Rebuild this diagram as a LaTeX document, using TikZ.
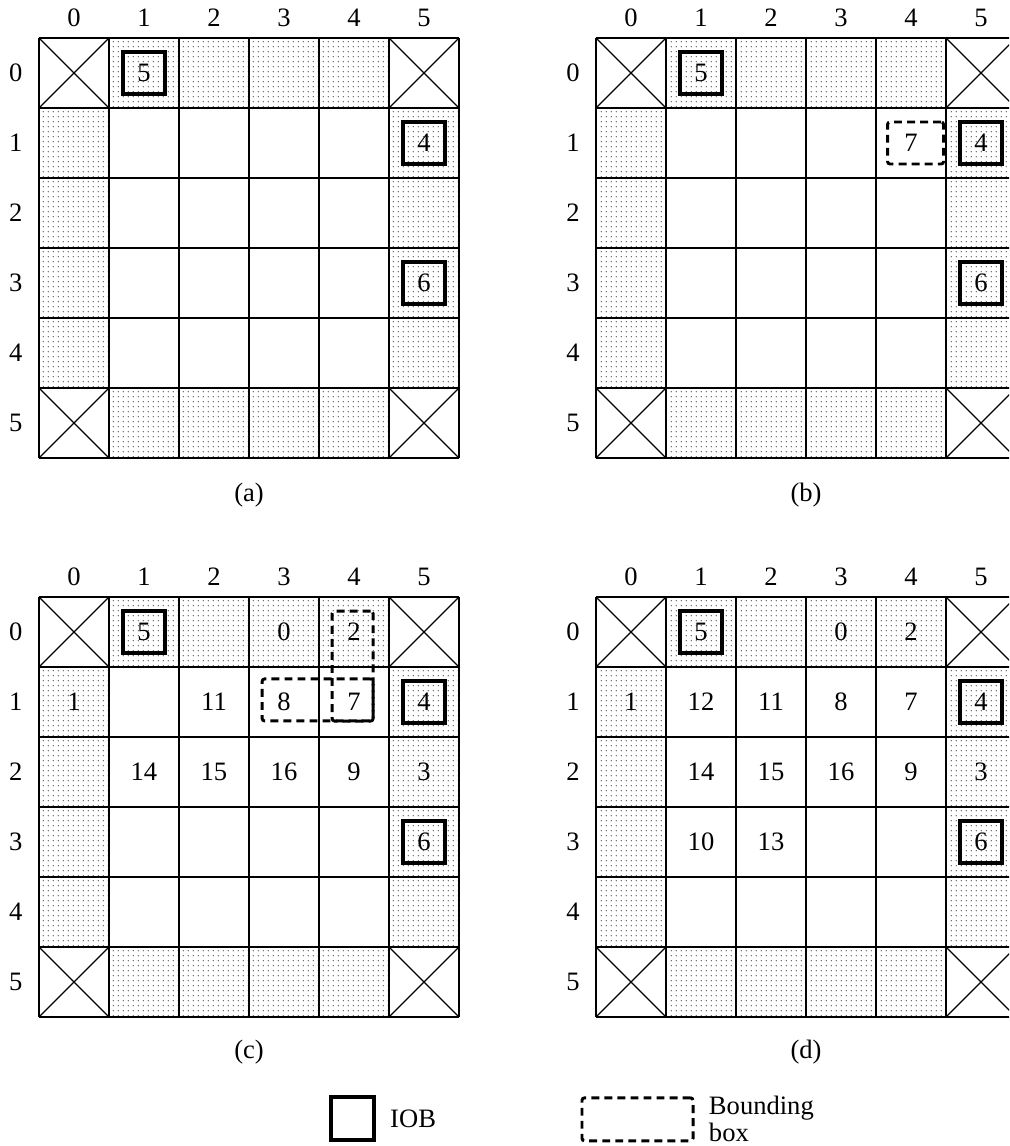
\documentclass[tikz,border=0pt]{standalone}
\usepackage{fontspec}
\setmainfont{Liberation Serif}
\usepackage{tikz}
\usetikzlibrary{patterns.meta, positioning, calc}
\newcommand\cellfont{\fontsize{10.8}{11}\selectfont}
\tikzdeclarepattern{
  name=iodots, type=uncolored,
  bounding box={(0pt,0pt) and (2.1pt,2.1pt)},
  tile size={(2.1pt,2.1pt)},
  code={\fill (1.05pt,1.05pt) circle (0.3pt);}
}
\tikzset{
  gridline/.style  = {line width=0.7pt},
  crossline/.style = {line width=0.5pt},
  iofill/.style    = {pattern=iodots, pattern color=black!75},
  lbl/.style       = {font=\cellfont, inner sep=0pt},
  iob/.style       = {draw, line width=1.5pt, minimum size=0.6cm, inner sep=0pt, font=\cellfont},
  bbox/.style      = {draw, line width=1.2pt, dash pattern=on 3.2pt off 2.1pt,
                      rounded corners=1pt, inner sep=0pt, font=\cellfont},
  fpga/.pic = {
    \fill[iofill] (1,0) rectangle (5,-1)  (1,-5) rectangle (5,-6)
                  (0,-1) rectangle (1,-5) (5,-1) rectangle (6,-5);
    \draw[gridline] (0,-6) grid (6,0);
    \draw[crossline] (0,0) -- (1,-1) (0,-1) -- (1,0)
                     (5,0) -- (6,-1) (5,-1) -- (6,0)
                     (0,-5) -- (1,-6) (0,-6) -- (1,-5)
                     (5,-5) -- (6,-6) (5,-6) -- (6,-5);
    \foreach \i in {0,...,5} {
      \node[lbl] (-col\i) at (\i+0.5, 0.29) {\i};
      \node[lbl] (-row\i) at (-0.33, -\i-0.5) {\i};
      \foreach \j in {0,...,5} \coordinate (-c\i\j) at (\i+0.5, -\j-0.5);
    }
  },
}

\begin{document}
\begin{tikzpicture}
  \clip (0,0) rectangle (14.414,-16.371);

  %% (a) initial placement of IOBs
  \pic (pa) at (0.557,-0.543) {fpga};
  \node[iob] (pa-io5) at (pa-c10) {5};
  \node[iob] (pa-io4) at (pa-c51) {4};
  \node[iob] (pa-io6) at (pa-c53) {6};
  \node[lbl] (capa) at (3.557,-7.07) {(a)};

  %% (b) first bounding box
  \pic (pb) at (8.514,-0.543) {fpga};
  \node[iob] (pb-io5) at (pb-c10) {5};
  \node[iob] (pb-io4) at (pb-c51) {4};
  \node[iob] (pb-io6) at (pb-c53) {6};
  \node[bbox, minimum width=0.8cm, minimum height=0.6cm, xshift=0.065cm] (pb-bb7) at (pb-c41) {};
  \node[lbl] (pb-n7) at (pb-c41) {7};
  \node[lbl] (capb) at (11.514,-7.07) {(b)};

  %% (c) partial placement
  \pic (pc) at (0.557,-8.529) {fpga};
  \node[iob] (pc-io5) at (pc-c10) {5};
  \node[iob] (pc-io4) at (pc-c51) {4};
  \node[iob] (pc-io6) at (pc-c53) {6};
  \node[lbl] (pc-n0)  at (pc-c30) {0};
  \node[lbl] (pc-n2)  at (pc-c40) {2};
  \node[lbl] (pc-n1)  at (pc-c01) {1};
  \node[lbl] (pc-n11) at (pc-c21) {11};
  \node[lbl] (pc-n8)  at (pc-c31) {8};
  \node[lbl] (pc-n7)  at (pc-c41) {7};
  \node[lbl] (pc-n14) at (pc-c12) {14};
  \node[lbl] (pc-n15) at (pc-c22) {15};
  \node[lbl] (pc-n16) at (pc-c32) {16};
  \node[lbl] (pc-n9)  at (pc-c42) {9};
  \node[lbl] (pc-n3)  at (pc-c52) {3};
  \node[bbox, minimum width=1.585cm, minimum height=0.6cm, xshift=-0.02cm, yshift=0.03cm]
       (pc-bbh) at ($(pc-c31)!0.5!(pc-c41)$) {};
  \node[bbox, minimum width=0.585cm, minimum height=1.571cm, xshift=-0.02cm, yshift=0.014cm]
       (pc-bbv) at ($(pc-c40)!0.5!(pc-c41)$) {};
  \node[lbl] (capc) at (3.557,-15.03) {(c)};

  %% (d) final placement
  \pic (pd) at (8.514,-8.529) {fpga};
  \node[iob] (pd-io5) at (pd-c10) {5};
  \node[iob] (pd-io4) at (pd-c51) {4};
  \node[iob] (pd-io6) at (pd-c53) {6};
  \node[lbl] (pd-n0)  at (pd-c30) {0};
  \node[lbl] (pd-n2)  at (pd-c40) {2};
  \node[lbl] (pd-n1)  at (pd-c01) {1};
  \node[lbl] (pd-n12) at (pd-c11) {12};
  \node[lbl] (pd-n11) at (pd-c21) {11};
  \node[lbl] (pd-n8)  at (pd-c31) {8};
  \node[lbl] (pd-n7)  at (pd-c41) {7};
  \node[lbl] (pd-n14) at (pd-c12) {14};
  \node[lbl] (pd-n15) at (pd-c22) {15};
  \node[lbl] (pd-n16) at (pd-c32) {16};
  \node[lbl] (pd-n9)  at (pd-c42) {9};
  \node[lbl] (pd-n3)  at (pd-c52) {3};
  \node[lbl] (pd-n10) at (pd-c13) {10};
  \node[lbl] (pd-n13) at (pd-c23) {13};
  \node[lbl] (capd) at (11.514,-15.03) {(d)};

  %% legend
  \node[iob, minimum size=0.61cm] (legiob) at (5.036,-15.98) {};
  \node[lbl, right=0.2cm of legiob] (legioblbl) {IOB};
  \node[bbox, minimum width=1.586cm, minimum height=0.614cm] (legbb) at (9.107,-15.99) {};
  \node[lbl, right=0.2cm of legbb, align=left] (legbblbl) {Bounding\\box};

\end{tikzpicture}
\end{document}
